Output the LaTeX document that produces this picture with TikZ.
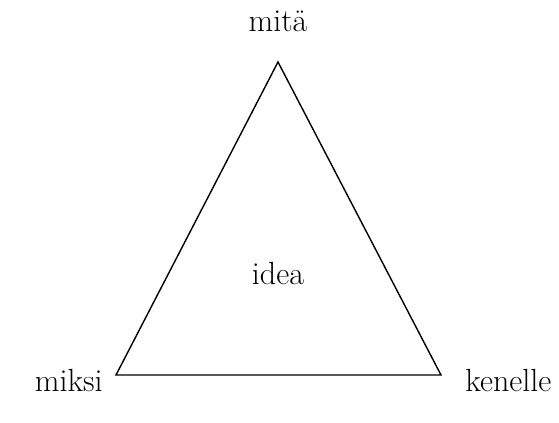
\documentclass[tikz,border=0pt]{standalone}
\usepackage{tikz}
\usetikzlibrary{positioning}

\begin{document}
\begin{tikzpicture}[x=0.5pt, y=-0.5pt,
    node distance=4pt and 6pt,
    lbl/.style={font=\fontsize{16}{19}\selectfont, inner sep=0pt},
    side/.style={line width=0.7pt, line join=miter}]
  \useasboundingbox (0,0) rectangle (559,423);
  \coordinate (apex) at (278,62);
  \coordinate (bl) at (116,375);
  \coordinate (br) at (441,375);
  \draw[side] (apex) -- (bl) -- (br) -- cycle;
  \node[lbl, above=15pt of apex] (mita) {mitä};
  \node[lbl, anchor=base east] (miksi) at ([xshift=-6.5pt, yshift=-8.5pt]bl) {miksi};
  \node[lbl, anchor=base west] (kenelle) at ([xshift=12pt, yshift=-8.5pt]br) {kenelle};
  \node[lbl] (idea) at (278,274) {idea};
\end{tikzpicture}
\end{document}
